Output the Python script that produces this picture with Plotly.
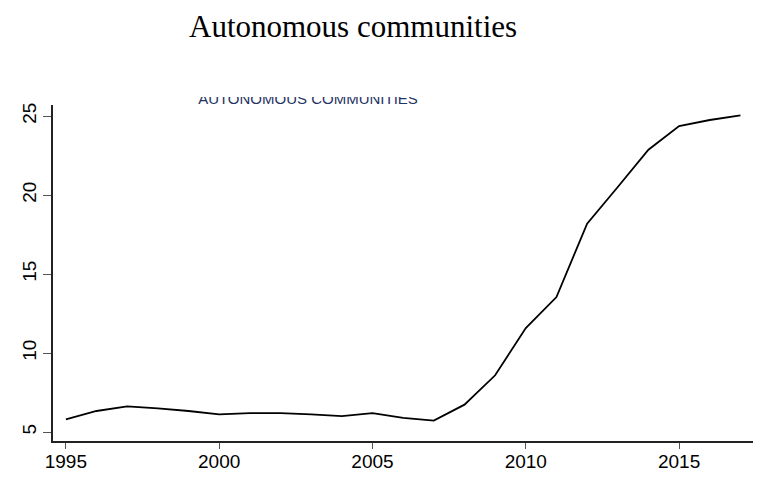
import plotly.graph_objects as go

# Yearly series for the autonomous communities
years = list(range(1995, 2018))
values = [5.80, 6.33, 6.62, 6.50, 6.33, 6.12, 6.20, 6.20, 6.12, 6.01, 6.20, 5.89,
          5.72, 6.73, 8.59, 11.58, 13.54, 18.19, 20.51, 22.87, 24.37, 24.75, 25.04]

x_ticks = [1995, 2000, 2005, 2010, 2015]
y_ticks = [5, 10, 15, 20, 25]
y_tick_text = ["5", "10", "15", "20", "25"]

title_text = "Autonomous communities"
header_text = "AUTONOMOUS COMMUNITIES"

W, H = 765, 478
ML, MR, MT, MB = 53, 12, 80, 37
plot_h = H - MT - MB          # 361 px of paper height
plot_top_px = 105             # top of the data panel
header_clip_px = 97           # top edge of the header strip
header_bottom_px = 112


def paper_y(px):
    return (H - MB - px) / plot_h


fig = go.Figure()

fig.add_trace(go.Scatter(
    x=years, y=values, mode="lines",
    line=dict(color="black", width=1.8),
    hoverinfo="x+y", showlegend=False,
))

# Header strip: a small subplot whose frame trims the upper part of the text
fig.add_trace(go.Scatter(
    x=[(308 - ML) / (W - ML - MR)], y=[(header_bottom_px - 100.5) / (header_bottom_px - header_clip_px)],
    mode="text", text=[header_text], textposition="middle center",
    textfont=dict(family="Liberation Sans, Arial, sans-serif", size=15, color="#1f3464"),
    cliponaxis=True, xaxis="x2", yaxis="y2", showlegend=False, hoverinfo="skip",
))

axis_font = dict(family="Liberation Sans, Arial, sans-serif", size=19, color="black")

fig.update_layout(
    width=W, height=H,
    margin=dict(l=ML, r=MR, t=MT, b=MB, autoexpand=False),
    paper_bgcolor="white", plot_bgcolor="white",
    xaxis=dict(
        range=[1994.58, 2017.41], tickmode="array", tickvals=x_ticks,
        showgrid=False, zeroline=False, showline=True, linecolor="#222222", linewidth=1.5,
        ticks="outside", ticklen=6, tickcolor="#555555", tickwidth=1,
        tickfont=axis_font, ticklabelstandoff=-4, anchor="y", automargin=False,
    ),
    yaxis=dict(
        range=[4.43, 25.70], domain=[0, paper_y(plot_top_px)],
        tickmode="array", tickvals=y_ticks, ticktext=y_tick_text, tickangle=-90,
        showgrid=False, zeroline=False, showline=True, linecolor="#222222", linewidth=1.5,
        ticks="outside", ticklen=8, tickcolor="#555555", tickwidth=1,
        tickfont=axis_font, ticklabelstandoff=0, anchor="x", automargin=False,
    ),
    xaxis2=dict(range=[0, 1], domain=[0, 1], visible=False, anchor="y2", fixedrange=True),
    yaxis2=dict(range=[0, 1], domain=[paper_y(header_bottom_px), paper_y(header_clip_px)],
                visible=False, anchor="x2", fixedrange=True),
    annotations=[dict(
        text=title_text, xref="paper", yref="paper",
        x=(353 - ML) / (W - ML - MR), y=paper_y(26),
        xanchor="center", yanchor="middle", showarrow=False,
        font=dict(family="Liberation Serif, Times New Roman, serif", size=31, color="black"),
    )],
)

fig.write_html("out.html")
